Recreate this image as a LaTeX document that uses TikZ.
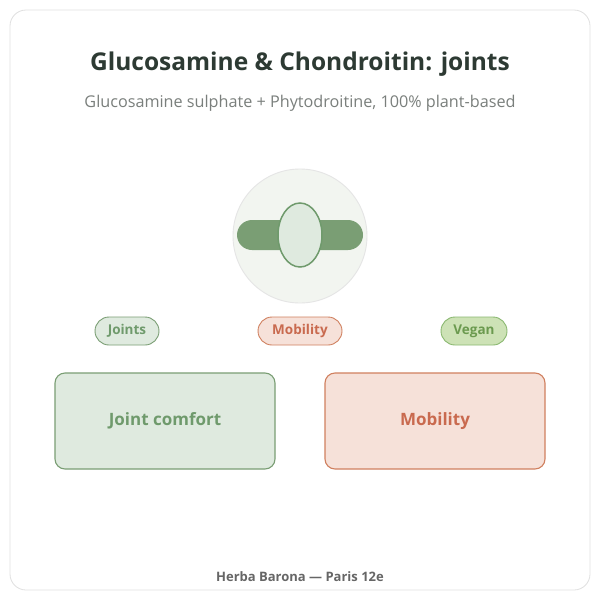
\documentclass[tikz,border=0pt]{standalone}
\usepackage{fontspec}
\setmainfont{Open Sans}
\usetikzlibrary{shapes.geometric}
\definecolor{ttl}{HTML}{2D3A33}
\definecolor{sub}{HTML}{7A7F7C}
\definecolor{gfill}{HTML}{DFEADF}
\definecolor{gline}{HTML}{7A9E74}
\definecolor{gtext}{HTML}{6F9A6C}
\definecolor{rfill}{HTML}{F6E1D9}
\definecolor{rline}{HTML}{D0805F}
\definecolor{rtext}{HTML}{C96A4F}
\definecolor{vfill}{HTML}{CDE2B6}
\definecolor{vline}{HTML}{8AB870}
\definecolor{vtext}{HTML}{6B9A4F}
\definecolor{disc}{HTML}{F2F5F0}
\begin{document}
\begin{tikzpicture}[x=1pt,y=-1pt,
 pill/.style={rounded corners=14pt,minimum height=28pt,line width=0.9pt,font=\fontsize{13.5}{15}\selectfont\bfseries,inner sep=0pt},
 card/.style={rounded corners=10pt,minimum width=220pt,minimum height=96pt,line width=1.1pt,font=\fontsize{17}{20}\selectfont\bfseries}]
\useasboundingbox (0,0) rectangle (600,600);
\fill[white] (0,0) rectangle (600,600);
\draw[rounded corners=16pt,draw=black!12,line width=0.8pt] (10,10) rectangle (590,590);
\node[text=ttl,font=\fontsize{24.5}{28}\selectfont\bfseries] (title) at (300,64) {Glucosamine \& Chondroitin: joints};
\node[text=sub,font=\fontsize{16.2}{19}\selectfont] (subtitle) at (300,103) {Glucosamine sulphate + Phytodroitine, 100\% plant-based};
\node[circle,minimum size=134pt,fill=disc,draw=black!10,line width=0.9pt] (dsc) at (300,236) {};
\node[rounded corners=15pt,minimum width=126pt,minimum height=30pt,fill=gline,inner sep=0pt] (bar) at (300,235) {};
\node[ellipse,minimum width=44pt,minimum height=64pt,fill=gfill,draw=gtext,line width=1.5pt] (cart) at (300,235) {};
\node[pill,minimum width=64pt,fill=gfill,draw=gline,text=gtext] (p1) at (127,331) {Joints};
\node[pill,minimum width=84pt,fill=rfill,draw=rline,text=rtext] (p2) at (300,331) {Mobility};
\node[pill,minimum width=66pt,fill=vfill,draw=vline,text=vtext] (p3) at (474,331) {Vegan};
\node[card,fill=gfill,draw=gline,text=gtext] (c1) at (165,421) {Joint comfort};
\node[card,fill=rfill,draw=rline,text=rtext] (c2) at (435,421) {Mobility};
\node[text=black!60,font=\fontsize{13}{15}\selectfont\bfseries] (foot) at (300,577) {Herba Barona — Paris 12e};
\end{tikzpicture}
\end{document}
